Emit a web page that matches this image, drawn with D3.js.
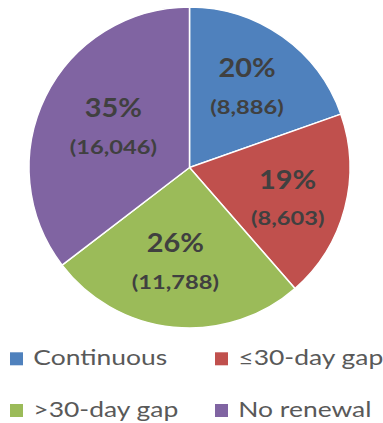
<!DOCTYPE html>
<html>
<head>
<meta charset="utf-8">
<script src="https://cdn.jsdelivr.net/npm/d3@7"></script>
<style>
  html, body { margin: 0; padding: 0; background: #ffffff; }
  svg { display: block; }
</style>
</head>
<body>
<svg id="chart" width="383" height="423"></svg>
<script>
const categories = ["Continuous", "\u226430-day gap", ">30-day gap", "No renewal"];
const counts = [8886, 8603, 11788, 16046];
const percents = ["20%", "19%", "26%", "35%"];
const colors = ["#4F81BD", "#C0504D", "#9BBB59", "#8064A2"];

const svg = d3.select("#chart");
const cx = 189.5, cy = 167.5, r = 160.5;

const pie = d3.pie().sort(null).value(d => d.count);
const data = categories.map((c, i) => ({ name: c, count: counts[i], pct: percents[i], color: colors[i] }));
const arcs = pie(data);

const arc = d3.arc().innerRadius(0).outerRadius(r);

// label placement (layout): radial fraction per slice and a small angular shift
const labelRFrac = [0.62, 0.64, 0.59, 0.54];
const labelShift = [0.0, 0.04, 0.05, 0.04];

const g = svg.append("g").attr("transform", `translate(${cx},${cy})`);

g.selectAll("path.slice")
  .data(arcs)
  .join("path")
  .attr("class", "slice")
  .attr("d", arc)
  .attr("fill", d => d.data.color)
  .attr("stroke", "#ffffff")
  .attr("stroke-width", 1.5);

const fmt = d3.format(",");
const labels = g.selectAll("g.label")
  .data(arcs)
  .join("g")
  .attr("class", "label")
  .attr("transform", (d, i) => {
    const a = (d.startAngle + d.endAngle) / 2 + labelShift[i];
    const rr = r * labelRFrac[i];
    return `translate(${rr * Math.sin(a)},${-rr * Math.cos(a)})`;
  });

labels.append("g")
  .attr("transform", "translate(0,-8.8) scale(1.07,1)")
  .append("text")
  .attr("text-anchor", "middle")
  .attr("font-family", "Lato, 'Open Sans', sans-serif")
  .attr("font-weight", 700)
  .attr("font-size", 27)
  .attr("fill", "#404040")
  .text(d => d.data.pct);

labels.append("g")
  .attr("transform", "translate(0,27.8) scale(1.28,1)")
  .append("text")
  .attr("text-anchor", "middle")
  .attr("font-family", "Lato, 'Open Sans', sans-serif")
  .attr("font-weight", 700)
  .attr("font-size", 18.5)
  .attr("fill", "#404040")
  .text(d => "(" + fmt(d.data.count) + ")");

// Legend
const legendPos = [[10, 364.8], [215, 364.8], [10, 416.5], [215, 416.5]];
const legend = svg.selectAll("g.legend")
  .data(data)
  .join("g")
  .attr("class", "legend")
  .attr("transform", (d, i) => `translate(${legendPos[i][0]},${legendPos[i][1]})`);

legend.append("rect")
  .attr("x", 0).attr("y", -12.5)
  .attr("width", 13).attr("height", 13)
  .attr("fill", d => d.color);

legend.append("g")
  .attr("transform", "translate(23.3,0) scale(1.26,1)")
  .append("text")
  .attr("font-family", "Lato, 'Open Sans', sans-serif")
  .attr("font-size", 21)
  .attr("fill", "#595959")
  .text(d => d.name);
</script>
</body>
</html>
